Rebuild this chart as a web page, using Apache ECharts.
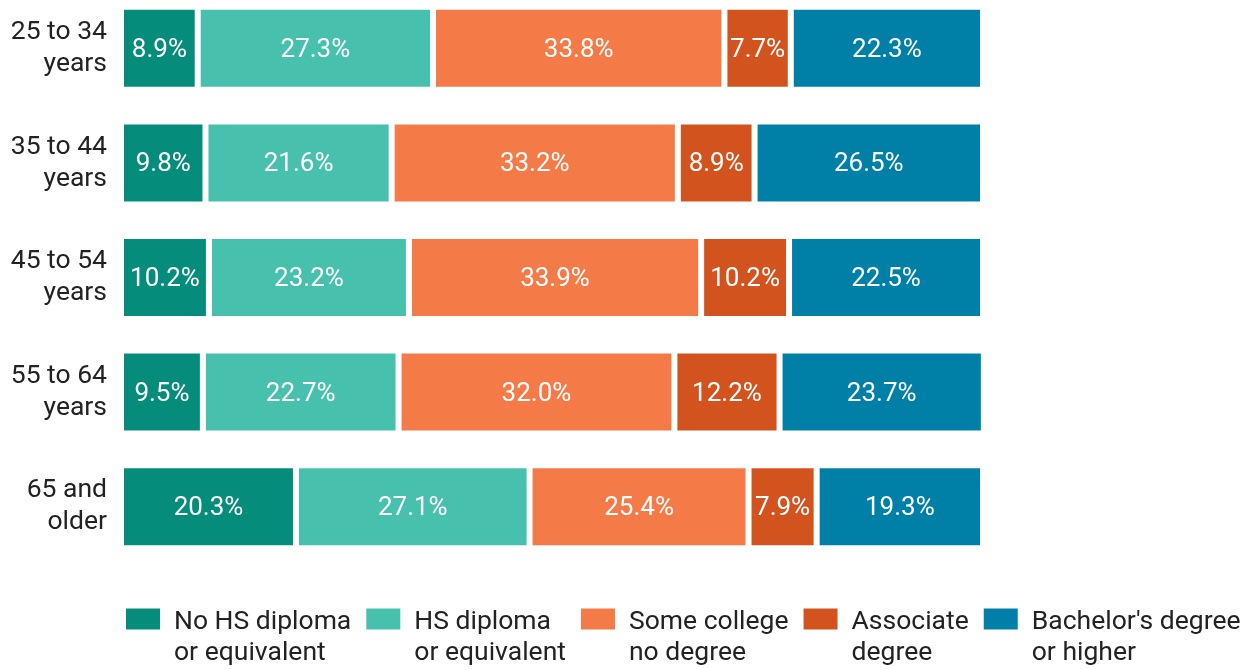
<!DOCTYPE html>
<html lang="en">
<head>
    <meta charset="UTF-8">
    <title>Educational attainment by age</title>
    <script src="https://cdn.jsdelivr.net/npm/echarts@6/dist/echarts.min.js"></script>
    <style>
        html, body { margin: 0; padding: 0; background: #fff; }
        #chart { width: 1258px; height: 669px; }
    </style>
</head>
<body>
    <div id="chart"></div>
    <script>
        // age groups, top to bottom
        const ageGroups = ['25 to 34\nyears', '35 to 44\nyears', '45 to 54\nyears', '55 to 64\nyears', '65 and\nolder'];
        const seriesNames = ['No HS diploma\nor equivalent', 'HS diploma\nor equivalent', 'Some college\nno degree', 'Associate\ndegree', "Bachelor's degree\nor higher"];
        const colors = ['#068c7a', '#47c0ae', '#f47a48', '#d3531f', '#0180a7'];
        // shares in percent, same order as ageGroups
        const noHsDiploma = [8.9, 9.8, 10.2, 9.5, 20.3];
        const hsDiploma = [27.3, 21.6, 23.2, 22.7, 27.1];
        const someCollege = [33.8, 33.2, 33.9, 32.0, 25.4];
        const associate = [7.7, 8.9, 10.2, 12.2, 7.9];
        const bachelors = [22.3, 26.5, 22.5, 23.7, 19.3];
        const values = [noHsDiploma, hsDiploma, someCollege, associate, bachelors];

        const chart = echarts.init(document.getElementById('chart'));
        const font = 'Roboto, "Noto Sans", sans-serif';

        chart.setOption({
            animation: false,
            textStyle: { fontFamily: font },
            grid: { left: 121, top: -9, width: 862, height: 573, outerBoundsMode: 'none', containLabel: false },
            legend: {
                left: 119,
                top: 582,
                width: 1200,
                itemWidth: 36,
                itemHeight: 23,
                itemGap: 13,
                icon: 'rect',
                selectedMode: false,
                // spacer line on top so the icon sits next to the first text line
                formatter: name => '{s| }\n' + name.split('\n').map(l => '{t|' + l + '}').join('\n'),
                textStyle: {
                    color: '#222',
                    padding: [0, 0, 0, 8],
                    rich: {
                        s: { fontSize: 2, lineHeight: 38 },
                        t: { fontSize: 26.5, lineHeight: 31, color: '#222', fontFamily: font }
                    }
                },
                data: seriesNames
            },
            xAxis: { type: 'value', min: 0, max: 100, show: false },
            yAxis: {
                type: 'category',
                inverse: true,
                data: ageGroups,
                axisLine: { show: false },
                axisTick: { show: false },
                axisLabel: { fontSize: 26.5, lineHeight: 32, color: '#222', margin: 14, align: 'right' }
            },
            series: seriesNames.map((name, i) => ({
                name: name,
                type: 'bar',
                stack: 'total',
                barWidth: 83,
                data: values[i],
                itemStyle: { color: colors[i], borderColor: '#fff', borderWidth: 3 },
                label: {
                    show: true,
                    position: 'inside',
                    color: '#fff',
                    fontSize: 26,
                    offset: [0, 2],
                    formatter: p => p.value.toFixed(1) + '%'
                }
            }))
        });
    </script>
</body>
</html>
